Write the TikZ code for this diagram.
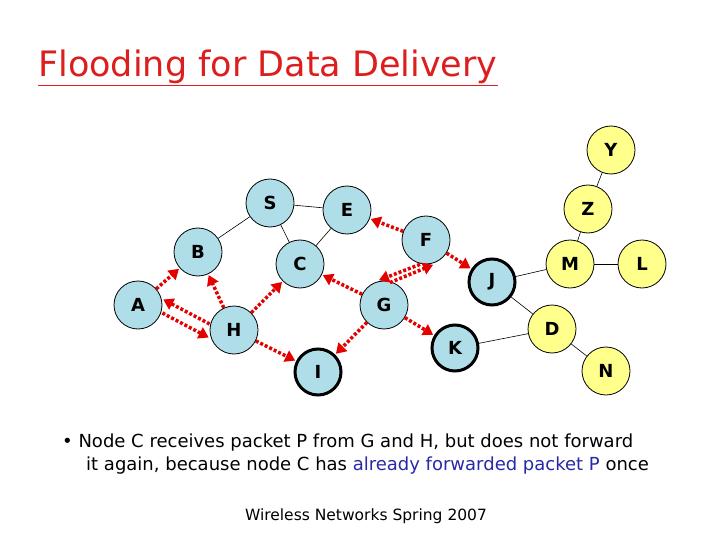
\documentclass[tikz,border=0pt]{standalone}
\usepackage{fontspec}
\setmainfont{DejaVu Sans}
\usetikzlibrary{arrows.meta}
\definecolor{nblue}{RGB}{176,222,232}
\definecolor{nyel}{RGB}{255,255,140}
\definecolor{tred}{RGB}{220,30,30}
\definecolor{tblue}{RGB}{40,40,170}
\begin{document}
\begin{tikzpicture}[x=1pt,y=-1pt,
  nd/.style={circle,draw=black,line width=0.8pt,minimum size=48pt,inner sep=0pt,font=\bfseries\fontsize{18}{18}\selectfont},
  bn/.style={nd,fill=nblue},
  yn/.style={nd,fill=nyel},
  bold/.style={line width=3pt,minimum size=46pt},
  ln/.style={draw=black,line width=0.6pt},
  fl/.style={draw=red!90!black,line width=3.5pt,dash pattern=on 3pt off 2pt,-{Triangle[length=10pt,width=12pt]},shorten >=1pt}]
\useasboundingbox (0,0) rectangle (720,540);
\node[anchor=west,text=tred,font=\fontsize{35}{35}\selectfont,inner sep=0pt] (title) at (38,68) {\underline{Flooding for Data Delivery}};
\node[bn] (S) at (270,203) {S};
\node[bn] (E) at (347,210) {E};
\node[bn] (B) at (198,252) {B};
\node[bn] (C) at (300,264) {C};
\node[bn] (F) at (426,240) {F};
\node[bn] (A) at (138,305) {A};
\node[bn] (H) at (234,330) {H};
\node[bn] (G) at (384,305) {G};
\node[bn,bold] (I) at (318,372) {I};
\node[bn,bold] (K) at (455,348) {K};
\node[bn,bold] (J) at (492,282) {J};
\node[yn] (M) at (570,264) {M};
\node[yn] (L) at (642,264) {L};
\node[yn] (D) at (552,329) {D};
\node[yn] (N) at (606,371) {N};
\node[yn] (Y) at (611,150) {Y};
\node[yn] (Z) at (588,209) {Z};
\foreach \a/\b in {S/B,S/E,S/C,E/C,Y/Z,Z/M,M/L,J/M,J/D,K/D,D/N} \draw[ln] (\a)--(\b);
\draw[fl] (F)--(E);
\draw[fl] (A)--(B);
\draw[fl] (H)--(B);
\draw[fl] ([yshift=6pt]H.west)--([yshift=6pt]A.east);
\draw[fl] ([yshift=-8pt]A.east)--([yshift=-8pt]H.west);
\draw[fl] (H)--(C);
\draw[fl] (G)--(C);
\draw[fl] ([xshift=-6pt]F.south)--([xshift=-6pt]G.north);
\draw[fl] ([xshift=6pt,yshift=-2pt]G.north)--([xshift=8pt]F.south);
\draw[fl] (F)--(J);
\draw[fl] (G)--(I);
\draw[fl] (G)--(K);
\draw[fl] (H)--(I);
\node[anchor=west,font=\fontsize{18}{18}\selectfont,inner sep=0pt] (b1) at (62,443) {\textbullet\ Node C receives packet P from G and H, but does not forward};
\node[anchor=west,font=\fontsize{18}{18}\selectfont,inner sep=0pt] (b2) at (86,466) {it again, because node C has \textcolor{tblue}{already forwarded packet P} once};
\node[font=\fontsize{15.5}{16}\selectfont] (foot) at (366,516) {Wireless Networks Spring 2007};
\end{tikzpicture}
\end{document}
